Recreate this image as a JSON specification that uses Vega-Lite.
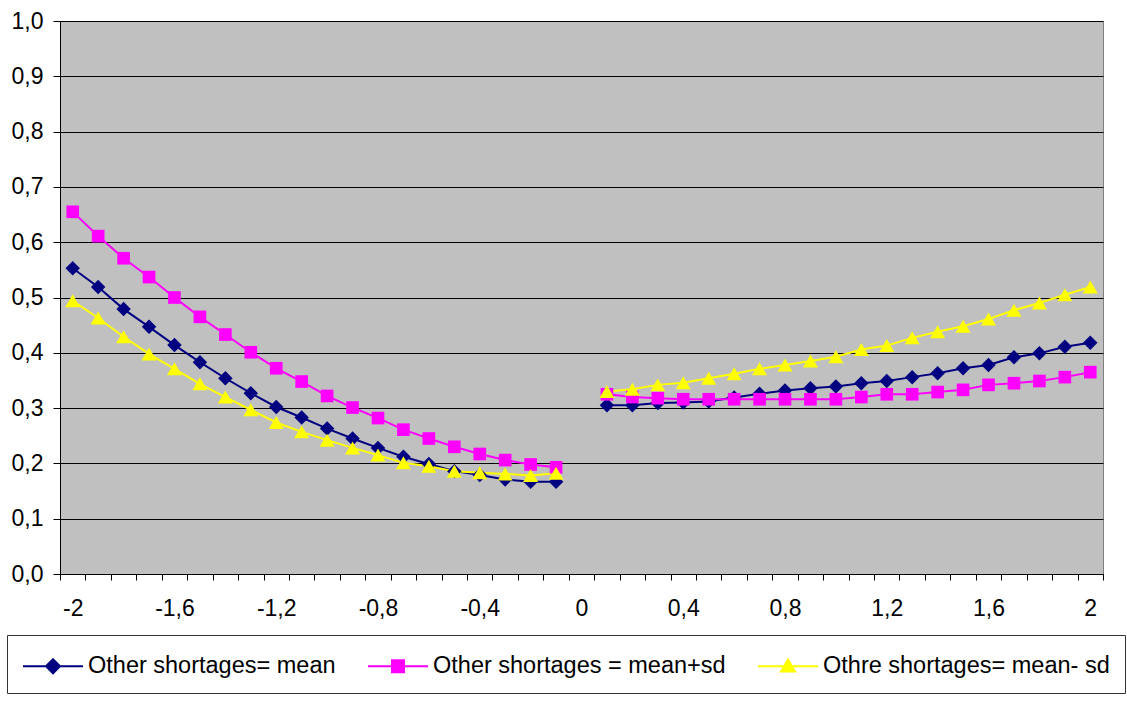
{
  "$schema": "https://vega.github.io/schema/vega-lite/v6.json",
  "width": 1043,
  "height": 553,
  "autosize": {"type": "none"},
  "padding": {"left": 60, "top": 21, "right": 24, "bottom": 136},
  "background": "white",
  "config": {
    "view": {"stroke": "#808080", "fill": "#C0C0C0", "strokeWidth": 1},
    "font": "Liberation Sans"
  },
  "data": {
    "values": [
      {"x": -2.0, "mean": 0.553, "plus": 0.655, "minus": 0.494},
      {"x": -1.9, "mean": 0.519, "plus": 0.611, "minus": 0.463},
      {"x": -1.8, "mean": 0.479, "plus": 0.571, "minus": 0.429},
      {"x": -1.7, "mean": 0.447, "plus": 0.537, "minus": 0.398},
      {"x": -1.6, "mean": 0.414, "plus": 0.500, "minus": 0.371},
      {"x": -1.5, "mean": 0.383, "plus": 0.465, "minus": 0.344},
      {"x": -1.4, "mean": 0.354, "plus": 0.433, "minus": 0.320},
      {"x": -1.3, "mean": 0.327, "plus": 0.401, "minus": 0.297},
      {"x": -1.2, "mean": 0.302, "plus": 0.372, "minus": 0.274},
      {"x": -1.1, "mean": 0.283, "plus": 0.348, "minus": 0.257},
      {"x": -1.0, "mean": 0.263, "plus": 0.322, "minus": 0.242},
      {"x": -0.9, "mean": 0.245, "plus": 0.301, "minus": 0.228},
      {"x": -0.8, "mean": 0.228, "plus": 0.282, "minus": 0.215},
      {"x": -0.7, "mean": 0.212, "plus": 0.261, "minus": 0.201},
      {"x": -0.6, "mean": 0.199, "plus": 0.245, "minus": 0.195},
      {"x": -0.5, "mean": 0.186, "plus": 0.230, "minus": 0.186},
      {"x": -0.4, "mean": 0.179, "plus": 0.217, "minus": 0.183},
      {"x": -0.3, "mean": 0.171, "plus": 0.206, "minus": 0.181},
      {"x": -0.2, "mean": 0.167, "plus": 0.198, "minus": 0.178},
      {"x": -0.1, "mean": 0.167, "plus": 0.193, "minus": 0.182},
      {"x": 0.0, "mean": null, "plus": null, "minus": null},
      {"x": 0.1, "mean": 0.305, "plus": 0.325, "minus": 0.330},
      {"x": 0.2, "mean": 0.305, "plus": 0.320, "minus": 0.334},
      {"x": 0.3, "mean": 0.309, "plus": 0.318, "minus": 0.342},
      {"x": 0.4, "mean": 0.310, "plus": 0.316, "minus": 0.346},
      {"x": 0.5, "mean": 0.312, "plus": 0.316, "minus": 0.354},
      {"x": 0.6, "mean": 0.319, "plus": 0.316, "minus": 0.362},
      {"x": 0.7, "mean": 0.326, "plus": 0.316, "minus": 0.371},
      {"x": 0.8, "mean": 0.332, "plus": 0.316, "minus": 0.378},
      {"x": 0.9, "mean": 0.336, "plus": 0.316, "minus": 0.385},
      {"x": 1.0, "mean": 0.339, "plus": 0.316, "minus": 0.393},
      {"x": 1.1, "mean": 0.345, "plus": 0.320, "minus": 0.406},
      {"x": 1.2, "mean": 0.349, "plus": 0.325, "minus": 0.413},
      {"x": 1.3, "mean": 0.356, "plus": 0.325, "minus": 0.427},
      {"x": 1.4, "mean": 0.363, "plus": 0.329, "minus": 0.438},
      {"x": 1.5, "mean": 0.372, "plus": 0.333, "minus": 0.448},
      {"x": 1.6, "mean": 0.378, "plus": 0.342, "minus": 0.461},
      {"x": 1.7, "mean": 0.392, "plus": 0.345, "minus": 0.477},
      {"x": 1.8, "mean": 0.399, "plus": 0.349, "minus": 0.490},
      {"x": 1.9, "mean": 0.411, "plus": 0.356, "minus": 0.505},
      {"x": 2.0, "mean": 0.418, "plus": 0.365, "minus": 0.519}
    ]
  },
  "transform": [{"fold": ["mean", "plus", "minus"], "as": ["series", "y"]}],
  "encoding": {
    "x": {
      "field": "x",
      "type": "quantitative",
      "scale": {"domain": [-2.05, 2.05], "nice": false, "zero": false},
      "axis": {
        "title": null,
        "grid": false,
        "values": [-2.05, -1.95, -1.85, -1.75, -1.65, -1.55, -1.45, -1.35, -1.25, -1.15, -1.05, -0.95, -0.85, -0.75, -0.65, -0.55, -0.45, -0.35, -0.25, -0.15, -0.05, 0.05, 0.15, 0.25, 0.35, 0.45, 0.55, 0.65, 0.75, 0.85, 0.95, 1.05, 1.15, 1.25, 1.35, 1.45, 1.55, 1.65, 1.75, 1.85, 1.95, 2.05],
        "labelExpr": "abs(round((datum.value + 0.05) * 10)) % 4 == 0 && round((datum.value + 0.05) * 10) <= 20 ? replace('' + (round((datum.value + 0.05) * 10) / 10), '.', ',') : ''",
        "labelOffset": 12.7,
        "labelOverlap": false,
        "labelFlush": false,
        "labelBound": false,
        "labelFontSize": 23,
        "labelColor": "black",
        "labelFont": "Liberation Sans",
        "labelPadding": 17,
        "tickSize": 6,
        "tickColor": "black",
        "domainColor": "black"
      }
    },
    "y": {
      "field": "y",
      "type": "quantitative",
      "scale": {"domain": [0, 1], "nice": false},
      "axis": {
        "title": null,
        "values": [0, 0.1, 0.2, 0.3, 0.4, 0.5, 0.6, 0.7, 0.8, 0.9, 1.0],
        "labelExpr": "replace(format(datum.value, '.1f'), '.', ',')",
        "grid": true,
        "gridColor": "black",
        "gridWidth": 1,
        "gridOpacity": 1,
        "domainColor": "black",
        "tickColor": "black",
        "tickSize": 7,
        "labelPadding": 10,
        "labelFontSize": 23,
        "labelColor": "black",
        "labelFont": "Liberation Sans"
      }
    },
    "color": {
      "field": "series",
      "type": "nominal",
      "scale": {"domain": ["mean", "plus", "minus"], "range": ["#000080", "#FF00FF", "#FFFF00"]},
      "legend": {
        "orient": "none",
        "legendX": -53,
        "legendY": 614,
        "direction": "horizontal",
        "title": null,
        "strokeColor": "#333333",
        "fillColor": "white",
        "padding": 15,
        "columnPadding": 28,
        "symbolSize": 900,
        "symbolStrokeWidth": 2,
        "labelOffset": 34,
        "labelFontSize": 23.5,
        "labelFont": "Liberation Sans",
        "labelColor": "black",
        "labelLimit": 500,
        "labelExpr": "datum.value == 'mean' ? 'Other shortages= mean' : datum.value == 'plus' ? 'Other shortages = mean+sd' : 'Othre shortages= mean- sd'",
        "encode": {
          "symbols": {
            "update": {
              "shape": {"signal": "datum.value == 'mean' ? 'M-1,0H3M1,-0.467L1.467,0L1,0.467L0.533,0Z' : datum.value == 'plus' ? 'M-1,0H3M0.6,-0.4H1.4V0.4H0.6Z' : 'M-1,0H3M1,-0.45L1.467,0.35L0.533,0.35Z'"},
              "fill": {"scale": "color", "field": "value"},
              "stroke": {"scale": "color", "field": "value"},
              "strokeWidth": {"value": 2},
              "size": {"value": 900},
              "opacity": {"value": 1},
              "fillOpacity": {"value": 1}
            }
          }
        }
      }
    }
  },
  "layer": [
    {
      "mark": {"type": "line", "strokeWidth": 2, "invalid": "break-paths-filter-domains"}
    },
    {
      "transform": [{"filter": "datum.series == 'mean'"}],
      "mark": {"type": "point", "filled": true, "opacity": 1, "shape": "diamond", "size": 210}
    },
    {
      "transform": [{"filter": "datum.series == 'plus'"}],
      "mark": {"type": "point", "filled": true, "opacity": 1, "shape": "square", "size": 160}
    },
    {
      "transform": [{"filter": "datum.series == 'minus'"}],
      "mark": {"type": "point", "filled": true, "opacity": 1, "shape": "triangle-up", "size": 225}
    }
  ]
}
